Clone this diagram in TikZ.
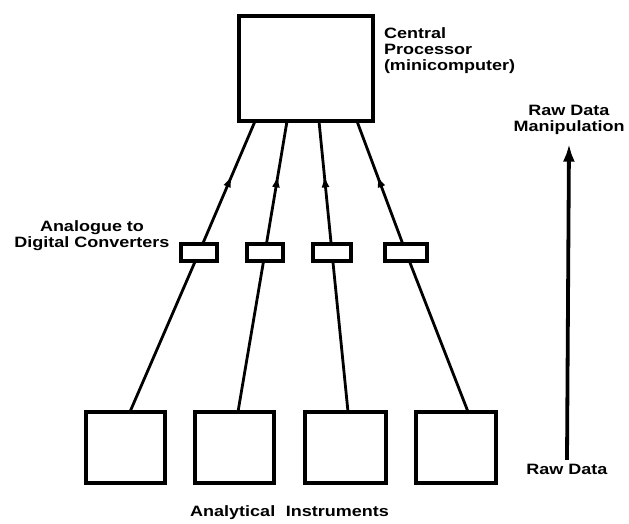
\documentclass[tikz,border=0pt]{standalone}
\usepackage{fontspec}
\newfontfamily\lbl[FakeStretch=1.2]{Liberation Sans}
\usetikzlibrary{arrows.meta,decorations.markings,calc}

\begin{document}
\begin{tikzpicture}[x=1pt,y=-1pt,
  every node/.style={inner sep=0pt,outer sep=0pt},
  label text/.style={font=\lbl\bfseries\fontsize{15}{16}\selectfont},
  frame/.style={draw,line width=3.6pt,fill=white},
  instbox/.style={frame,minimum width=79.5pt,minimum height=71.5pt},
  adcbox/.style={frame,minimum height=16.5pt},
  link/.style={line width=2.8pt},
  uplink/.style={link,postaction={decorate},
    decoration={markings,mark=at position 0.56 with {\arrow{Latex[length=12pt,width=8pt]}}}}
]
\useasboundingbox (0,0) rectangle (629,524);

% central processor
\node[frame,minimum width=134.5pt,minimum height=105.5pt] (cp) at (306,68.5) {};
\node[label text,align=left,anchor=north west] (cptext) at (384,28)
  {Central\\Processor\\(minicomputer)};

% analytical instruments
\node[instbox] (i1) at (125.5,447.5) {};
\node[instbox] (i2) at (234.5,447.5) {};
\node[instbox,minimum width=81.5pt] (i3) at (345.5,447.5) {};
\node[instbox,minimum width=80.5pt] (i4) at (456,447.5) {};
\node[label text] (instlabel) at (289.5,513) {Analytical\hspace{0.7em}Instruments};

% analogue to digital converters
\node[adcbox,minimum width=36.5pt] (a1) at (199,252.5) {};
\node[adcbox,minimum width=35.5pt] (a2) at (265,252.5) {};
\node[adcbox,minimum width=38.5pt] (a3) at (332,252.5) {};
\node[adcbox,minimum width=42.5pt] (a4) at (406,252.5) {};
\node[label text,align=center,anchor=north] (adctext) at (92,221)
  {Analogue to\\Digital Converters};

% signal paths: instrument -> converter -> processor
\draw[link] ([xshift=4.5pt]i1.north) -- (a1);
\draw[link] ([xshift=3.5pt]i2.north) -- (a2);
\draw[link] ([xshift=2.5pt]i3.north) -- (a3);
\draw[link] ([xshift=12pt]i4.north) -- (a4);
\draw[uplink] (a1) -- ([xshift=-51pt]cp.south);
\draw[uplink] (a2) -- ([xshift=-19pt]cp.south);
\draw[uplink] (a3) -- ([xshift=13pt]cp.south);
\draw[uplink] (a4) -- ([xshift=51pt]cp.south);

% data level scale
\node[label text] (raw) at (567,469) {Raw Data};
\node[label text,align=center] (manip) at (569,120) {Raw Data\\Manipulation};
\draw[line width=3.8pt,-{Latex[length=18pt,width=12pt]}]
  ([yshift=4pt]raw.north) -- ([yshift=-9pt]manip.south);
\end{tikzpicture}
\end{document}
